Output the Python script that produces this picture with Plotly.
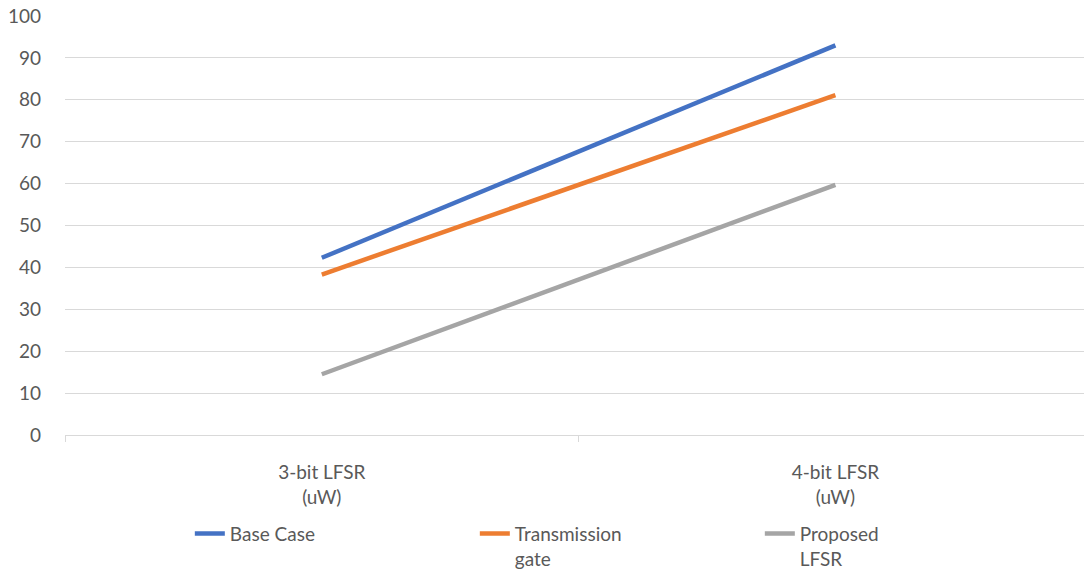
import plotly.graph_objects as go

categories = ["3-bit LFSR<br>(uW)", "4-bit LFSR<br>(uW)"]
series_names = ["Base Case", "Transmission<br>gate", "Proposed<br>LFSR"]
base_case = [42.3, 93.0]
transmission_gate = [38.3, 81.1]
proposed_lfsr = [14.5, 59.7]
colors = ["#4472C4", "#ED7D31", "#A5A5A5"]

x_idx = list(range(len(categories)))
fig = go.Figure()
for name, vals, c in zip(series_names, [base_case, transmission_gate, proposed_lfsr], colors):
    fig.add_trace(go.Scatter(x=x_idx, y=vals, mode="lines", name=name,
                             line=dict(color=c, width=4.5)))

font = "Lato, Carlito, 'Open Sans', sans-serif"
fig.update_layout(
    width=1084, height=573,
    margin=dict(l=65, r=0, t=16, b=138, autoexpand=False),
    paper_bgcolor="white", plot_bgcolor="white",
    font=dict(family=font, size=19, color="#595959"),
    showlegend=True,
    legend=dict(orientation="h", x=0.1225, xanchor="left", y=-0.19, yanchor="top",
                entrywidth=240, font=dict(size=19, color="#595959"),
                traceorder="normal", valign="top"),
    xaxis=dict(range=[-0.5, 1.484], tickvals=x_idx, ticktext=categories,
               showgrid=False, zeroline=False, showline=True, linecolor="#D9D9D9",
               linewidth=1, ticks="", tickfont=dict(size=19, color="#595959"),
               minor=dict(tickvals=[-0.5, 0.5, 1.5], ticks="outside", ticklen=6,
                          tickcolor="#D9D9D9", showgrid=False),
               ticklabelstandoff=20, automargin=False),
    yaxis=dict(range=[0, 100], dtick=10, showgrid=True, gridcolor="#D9D9D9",
               gridwidth=1, zeroline=False, showline=False, ticks="",
               tickfont=dict(size=19, color="#595959"), ticklabelstandoff=23,
               automargin=False),
)
post = ("var s=document.documentElement.style, b=document.body.style;"
        "b.margin='0'; b.padding='0'; s.overflow='hidden'; b.overflow='hidden';"
        "s.height='573px'; b.height='573px';")
fig.write_html("out.html", config={"displayModeBar": False}, post_script=post)
